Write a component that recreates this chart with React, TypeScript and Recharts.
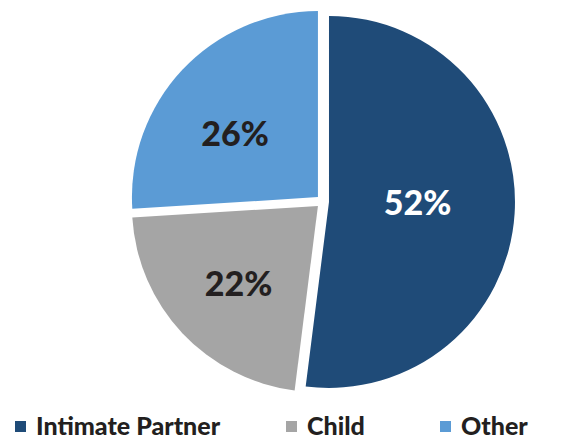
import React from 'react';
import { PieChart, Pie, Cell } from 'recharts';

const categories = ['Intimate Partner', 'Child', 'Other'];
const shares = [52, 22, 26];

const COLORS = ['#1F4B78', '#A5A5A5', '#5B9BD5'];
const LABEL_COLORS = ['#FFFFFF', '#231F20', '#231F20'];
const LABEL_RADIUS = [0.476, 0.6, 0.559];
const LABEL_ANGLE_SHIFT = [3.2, 1.5, 6.1];
const LEGEND_LEFT = [15, 286, 440];

const W = 568;
const H = 439;
const CX = 322.6;
const CY = 201.5;
const R = 186;
const EXPLODE = 6.4;
const RAD = Math.PI / 180;

const rows = categories.map((name, i) => ({ name, value: shares[i] }));
const total = shares.reduce((a, b) => a + b, 0);

function midAngleOf(k: number) {
  let cum = 0;
  for (let i = 0; i < k; i++) cum += shares[i];
  return 90 - (360 * (cum + shares[k] / 2)) / total;
}

const FONT = "Lato, 'Open Sans', sans-serif";

export default function App() {
  return (
    <div style={{ position: 'absolute', left: 0, top: 0, width: W, height: H, background: '#fff' }}>
      <PieChart width={W} height={H} margin={{ top: 0, right: 0, bottom: 0, left: 0 }}>
        {rows.map((_, k) => {
          const m = midAngleOf(k);
          const cx = CX + EXPLODE * Math.cos(m * RAD);
          const cy = CY - EXPLODE * Math.sin(m * RAD);
          const renderLabel = (props: any) => {
            if (props.index !== k) return null;
            const r = props.outerRadius * LABEL_RADIUS[k];
            const a = props.midAngle + LABEL_ANGLE_SHIFT[k];
            const x = props.cx + r * Math.cos(-a * RAD);
            const y = props.cy + r * Math.sin(-a * RAD);
            return (
              <text
                key={`lbl-${k}`}
                x={x}
                y={y + 12}
                textAnchor="middle"
                fill={LABEL_COLORS[k]}
                style={{ fontFamily: FONT, fontWeight: 900, fontSize: 34 }}
              >
                {`${shares[k]}%`}
              </text>
            );
          };
          return (
            <Pie
              key={`pie-${k}`}
              data={rows}
              dataKey="value"
              nameKey="name"
              cx={cx}
              cy={cy}
              outerRadius={R}
              innerRadius={0}
              startAngle={90}
              endAngle={-270}
              stroke="none"
              isAnimationActive={false}
              labelLine={false}
              label={renderLabel}
            >
              {rows.map((_, i) => (
                <Cell key={`c-${k}-${i}`} fill={i === k ? COLORS[i] : 'transparent'} stroke="none" />
              ))}
            </Pie>
          );
        })}
      </PieChart>
      {categories.map((name, i) => (
        <div
          key={name}
          style={{
            position: 'absolute',
            left: LEGEND_LEFT[i],
            top: 410,
            height: 30,
            lineHeight: '30px',
            whiteSpace: 'nowrap',
            fontFamily: FONT,
            fontWeight: 900,
            fontSize: 25,
            color: '#231F20',
          }}
        >
          <span
            style={{
              position: 'absolute',
              left: 0,
              top: 11,
              width: 11,
              height: 11,
              background: COLORS[i],
            }}
          />
          <span style={{ marginLeft: 21 }}>{name}</span>
        </div>
      ))}
    </div>
  );
}
